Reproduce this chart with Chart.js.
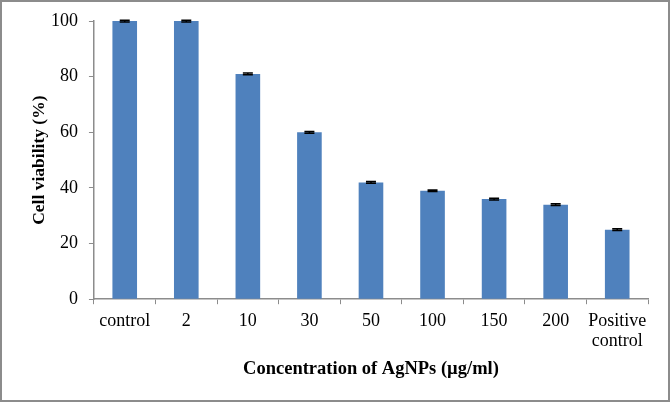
<!DOCTYPE html>
<html>
<head>
<meta charset="utf-8">
<script src="https://cdn.jsdelivr.net/npm/chart.js@4"></script>
<style>
  html, body { margin: 0; padding: 0; background: #fff; }
  .quadro { width: 666px; height: 398px; border: 2px solid #8c8c8c; position: relative; }
</style>
</head>
<body>
<div class="quadro"><canvas id="viabilidade" width="666" height="398"></canvas></div>
<script>
// --- Dados do gráfico ---
const categorias = ['control', '2', '10', '30', '50', '100', '150', '200', ['Positive', 'control']];
const viabilidade = [100, 100, 81, 60, 42, 39, 36, 34, 25];
const erros = [0.3, 0.3, 0.3, 0.3, 0.3, 0.3, 0.3, 0.3, 0.3];
const ticksY = [0, 20, 40, 60, 80, 100];

const FONTE = "'Liberation Serif', 'Times New Roman', serif";
const CINZA = '#8c8c8c';

// Desenha as barras de erro usando a escala y do gráfico
const barrasErro = {
    id: 'barrasErro',
    afterDatasetsDraw(chart) {
        const ctx = chart.ctx;
        const escalaY = chart.scales.y;
        const meta = chart.getDatasetMeta(0);
        ctx.save();
        ctx.strokeStyle = '#000';
        ctx.lineWidth = 1.5;
        meta.data.forEach((barra, i) => {
            const topo = escalaY.getPixelForValue(viabilidade[i] + erros[i]);
            const base = escalaY.getPixelForValue(viabilidade[i] - erros[i]);
            ctx.beginPath();
            ctx.moveTo(barra.x, topo); ctx.lineTo(barra.x, base);
            ctx.moveTo(barra.x - 5, topo); ctx.lineTo(barra.x + 5, topo);
            ctx.moveTo(barra.x - 5, base); ctx.lineTo(barra.x + 5, base);
            ctx.stroke();
        });
        ctx.restore();
    }
};

new Chart(document.getElementById('viabilidade'), {
    type: 'bar',
    data: {
        labels: categorias,
        datasets: [{
            data: viabilidade,
            backgroundColor: '#4f81bd',
            borderWidth: 0,
            barPercentage: 0.4,
            categoryPercentage: 1
        }]
    },
    options: {
        responsive: false,
        animation: false,
        layout: { padding: { left: 36.2, right: 20, top: 9, bottom: 20 } },
        plugins: { legend: { display: false }, tooltip: { enabled: false } },
        scales: {
            x: {
                grid: { drawOnChartArea: false, drawTicks: true, offset: true, tickLength: 5, color: CINZA },
                border: { color: CINZA, width: 1.5 },
                ticks: { color: '#000', font: { family: FONTE, size: 18, lineHeight: 1.1 }, padding: 7, maxRotation: 0, autoSkip: false },
                title: { display: true, text: 'Concentration of AgNPs (µg/ml)', color: '#000', font: { family: FONTE, size: 18.5, weight: 'bold' }, padding: { top: 0, bottom: 0 } }
            },
            y: {
                min: 0, max: 100,
                afterBuildTicks: escala => { escala.ticks = ticksY.map(v => ({ value: v })); },
                grid: { drawOnChartArea: false, drawTicks: true, tickLength: 5, color: CINZA },
                border: { color: CINZA, width: 1.5 },
                ticks: { color: '#000', font: { family: FONTE, size: 18, lineHeight: 0.9 }, padding: 11 },
                title: { display: true, text: 'Cell viability (%)', color: '#000', font: { family: FONTE, size: 17.5, weight: 'bold', lineHeight: 0.1 }, padding: { top: 0, bottom: 0 } }
            }
        }
    },
    plugins: [barrasErro]
});
</script>
</body>
</html>
